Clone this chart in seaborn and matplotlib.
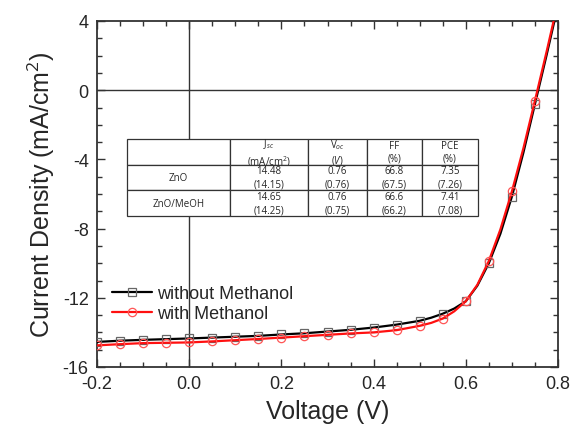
import numpy as np
import pandas as pd
import matplotlib
matplotlib.use("Agg")
import matplotlib.pyplot as plt
import seaborn as sns
from matplotlib.lines import Line2D
from matplotlib.ticker import MultipleLocator

# ---- data ----
voltage = [-0.2, -0.15, -0.1, -0.05, 0.0, 0.05, 0.1, 0.15, 0.2, 0.25, 0.3, 0.35,
           0.4, 0.45, 0.5, 0.525, 0.55, 0.575, 0.6, 0.625, 0.65, 0.675, 0.7, 0.725, 0.75, 0.775, 0.8]
j_without = [-14.55, -14.48, -14.43, -14.39, -14.35, -14.3, -14.25, -14.2, -14.12, -14.05,
             -13.95, -13.85, -13.72, -13.55, -13.33, -13.15, -12.92, -12.62, -12.2, -11.3, -10.0,
             -8.3, -6.15, -3.6, -0.8, 2.0, 4.9]
j_with = [-14.75, -14.68, -14.62, -14.6, -14.58, -14.52, -14.45, -14.38, -14.3, -14.22,
          -14.14, -14.06, -14.0, -13.87, -13.62, -13.45, -13.2, -12.78, -12.2, -11.25, -9.87,
          -8.05, -5.85, -3.35, -0.6, 2.2, 5.1]
marker_idx = [i for i, v in enumerate(voltage) if abs(round(v / 0.05) * 0.05 - v) < 1e-6 and v < 0.79]

series_labels = ["without Methanol", "with Methanol"]

table_header = ["", "J$_{sc}$\n(mA/cm$^2$)", "V$_{oc}$\n($\\it{V}$)", "FF\n(%)", "PCE\n(%)"]
table_rows = [
    ["ZnO", "14.48\n(14.15)", "0.76\n(0.76)", "66.8\n(67.5)", "7.35\n(7.26)"],
    ["ZnO/MeOH", "14.65\n(14.25)", "0.76\n(0.75)", "66.6\n(66.2)", "7.41\n(7.08)"],
]

df = pd.DataFrame({"V": voltage * 2,
                   "J": j_without + j_with,
                   "s": [series_labels[0]] * len(voltage) + [series_labels[1]] * len(voltage)})

sns.set_style("ticks")
plt.rcParams['font.family'] = ['Liberation Sans', 'DejaVu Sans']
plt.rcParams['axes.unicode_minus'] = False
plt.rcParams['mathtext.fontset'] = 'custom'
plt.rcParams['mathtext.rm'] = 'Open Sans'
plt.rcParams['mathtext.it'] = 'Open Sans:italic'

fig = plt.figure(figsize=(5.75, 4.31), dpi=100)
ax = fig.add_axes([97 / 575, 1 - 368 / 431, 461 / 575, 346 / 431])

ax.axhline(0, color="#333333", lw=1.0, zorder=1)
ax.axvline(0, color="#333333", lw=1.0, zorder=1)

styles = {
    series_labels[0]: dict(color="black", marker="s", mec="#666666", ms=5.5),
    series_labels[1]: dict(color="#ff1010", marker="o", mec="#ff5555", ms=6),
}
for lab in series_labels:
    st = styles[lab]
    sub = df[df["s"] == lab]
    sns.lineplot(data=sub, x="V", y="J", ax=ax, color=st["color"], lw=1.6,
                 marker=st["marker"], markerfacecolor="none", markeredgecolor=st["mec"],
                 markersize=st["ms"], markeredgewidth=0.9, markevery=marker_idx,
                 legend=False, zorder=3)

ax.set_xlim(-0.2, 0.8)
ax.set_ylim(-16, 4)
ax.xaxis.set_major_locator(MultipleLocator(0.2))
ax.xaxis.set_minor_locator(MultipleLocator(0.05))
ax.yaxis.set_major_locator(MultipleLocator(4))
ax.yaxis.set_minor_locator(MultipleLocator(1))
ax.set_xticklabels([f"{v:.1f}" for v in ax.get_xticks()])
ax.tick_params(which="both", direction="in", top=True, right=True, color="#333333")
ax.tick_params(which="major", length=6, width=1.0, labelsize=13, pad=6)
ax.tick_params(which="minor", length=3.5, width=1.0)
for sp in ax.spines.values():
    sp.set_linewidth(1.3)
    sp.set_color("#333333")

ax.set_xlabel("Voltage (V)", fontsize=18, labelpad=5)
ax.set_ylabel("Current Density (mA/cm$^2$)", fontsize=18, labelpad=4)

handles = [Line2D([], [], color=styles[l]["color"], lw=1.6, marker=styles[l]["marker"],
                  mfc="none", mec=styles[l]["mec"], ms=styles[l]["ms"], mew=0.9)
           for l in series_labels]
ax.legend(handles, series_labels, loc="lower left", bbox_to_anchor=(0.005, 0.094),
          frameon=False, fontsize=13, handlelength=2.2, handletextpad=0.3,
          labelspacing=0.15, borderaxespad=0.3)

# ---- table ----
cell_text = [table_header] + table_rows
tbl = ax.table(cellText=cell_text, cellLoc="center",
               colWidths=[103, 78, 59, 55, 56],
               bbox=[(127 - 97) / 461, (368 - 217) / 346, 351 / 461, 77 / 346])
tbl.auto_set_font_size(False)
tbl.set_fontsize(7)
tbl.set_zorder(5)
for (r, c), cell in tbl.get_celld().items():
    cell.set_edgecolor("#333333")
    cell.set_linewidth(0.9)
    cell.set_facecolor("white")
    cell.get_text().set_family(["Open Sans", "DejaVu Sans"])
    cell.get_text().set_linespacing(1.25)

fig.savefig("out.png", dpi=100)
